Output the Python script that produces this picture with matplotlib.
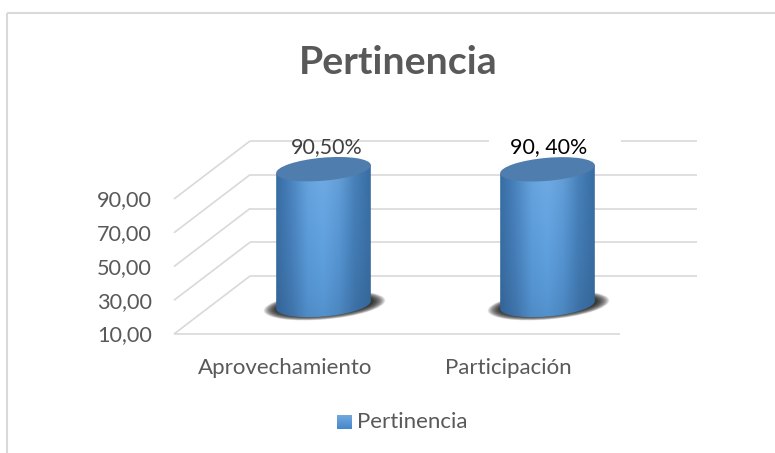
import numpy as np
import matplotlib
matplotlib.use("Agg")
import matplotlib.pyplot as plt
from matplotlib.patches import Ellipse, Polygon, Rectangle
from matplotlib.transforms import IdentityTransform
from matplotlib.colors import LinearSegmentedColormap

title = "Pertinencia"
categories = ["Aprovechamiento", "Participación"]
values = [90.5, 90.4]
value_labels = ["90,50%", "90, 40%"]
label_colors = ["#404040", "#000000"]
y_ticks = [10, 30, 50, 70, 90]
y_tick_labels = ["10,00", "30,00", "50,00", "70,00", "90,00"]
legend_label = "Pertinencia"

W, H = 775, 453
plt.rcParams["font.family"] = ["Lato", "DejaVu Sans"]
fig = plt.figure(figsize=(W / 100, H / 100), dpi=100)
ax = fig.add_axes([0, 0, 1, 1])
PX_UNIT = 1.6875
ax.set_xlim(-323.5 / 224, (W - 323.5) / 224)
ax.set_ylim(10 - (H - 334) / PX_UNIT, 10 + 334 / PX_UNIT)
ax.axis("off")
idt = IdentityTransform()

def P(x, y):
    """x, y from top-left pixels to display coordinates"""
    return (x, H - y)

GRID = "#d9d9d9"
def pline(x0, y0, x1, y1, z=1, lw=1.2, c=GRID):
    a, b = P(x0, y0), P(x1, y1)
    ax.plot([a[0], b[0]], [a[1], b[1]], transform=idt, color=c, lw=lw, zorder=z,
            clip_on=False, solid_capstyle="butt")

# outer frame: top and left edges only are visible
FL, FT, FR = 7.0, 13.0, 775.0
pline(FL, FT, FR, FT, lw=1.5)
pline(FL, FT, FL, H, lw=1.5)

# 3D grid derived from the value axis
FX0, BX0, FX1, BX1 = 174.0, 250.0, 620.0, 697.0
DY = 58.0
to_px = lambda v: H - ax.transData.transform((0, v))[1]
for v, lab in zip(y_ticks, y_tick_labels):
    yf = to_px(v)
    pline(FX0, yf, BX0, yf - DY)
    pline(BX0, yf - DY, BX1, yf - DY)
    ax.text(152, H - yf - 1.5, lab, transform=idt, ha="right", va="center",
            fontsize=15.6, color="#595959")
pline(FX0, to_px(10), FX1, to_px(10))

# cylinders
body = LinearSegmentedColormap.from_list("b", ["#376a9f", "#447cb6", "#5596d4", "#5a9cdb", "#5190cd", "#4078b0", "#386b9f"])
SEMI_W, SEMI_H, TILT = 47.5, 11.5, 5.0
DEPTH_Y = 29.0

for i, (v, txt, lc) in enumerate(zip(values, value_labels, label_colors)):
    cx = ax.transData.transform((i, 0))[0]
    ytop = to_px(v) - DEPTH_Y
    ybase = to_px(10) - DEPTH_Y
    # soft shadow
    for k in range(20):
        f = 1 - k / 20
        ax.add_patch(Ellipse(P(cx + 1, ybase + 0.5), 2 * (61 * f + 46 * (1 - f)), 2 * (14 * f + 9 * (1 - f)),
                             angle=TILT, transform=idt, fc="#111111", ec="none", alpha=0.09, zorder=3))
    # body outline in pixels
    th = np.radians(TILT)
    ts = np.linspace(np.pi, 2 * np.pi, 60)
    ex = SEMI_W * np.cos(ts)
    ey = SEMI_H * np.sin(ts)
    lower_x = cx + ex * np.cos(th) - ey * np.sin(th)
    lower_y = ybase - (ex * np.sin(th) + ey * np.cos(th))
    dxl = SEMI_W * np.cos(th)
    dyl = SEMI_W * np.sin(th)
    outline = [P(cx - dxl, ytop + dyl)] + [P(a, b) for a, b in zip(lower_x, lower_y)] + [P(cx + dxl, ytop - dyl)]
    clip = Polygon(outline, closed=True, transform=idt, fc="none", ec="none")
    ax.add_patch(clip)
    # horizontal shading with a vertical light falloff
    gx = np.linspace(0, 1, 120)
    rgb = body(gx)[:, :3]
    gy = np.linspace(0, 1, 80)
    light = 1.03 - 0.10 * gy ** 3
    img = rgb[None, :, :] * light[:, None, None]
    pale = 0.35 * ((1 - gy) ** 2)[:, None] * (np.sin(np.pi * gx) ** 2)[None, :]
    img = img * (1 - pale[:, :, None]) + pale[:, :, None] * np.array([0.62, 0.76, 0.90])
    x0, x1 = cx - dxl, cx + dxl
    y0, y1 = ytop - 12, ybase + 13
    a, b = ax.transData.inverted().transform(P(x0, y1)), ax.transData.inverted().transform(P(x1, y0))
    im = ax.imshow(np.clip(img, 0, 1), extent=[a[0], b[0], a[1], b[1]], origin="upper",
                   aspect="auto", zorder=4, interpolation="bilinear")
    im.set_clip_path(clip)
    # top cap
    ax.add_patch(Ellipse(P(cx, ytop), 2 * SEMI_W, 2 * SEMI_H, angle=TILT, transform=idt,
                         fc="#4f7dae", ec="none", zorder=5))
    # second value label sits on a white box that hides the grid line
    if i == 1:
        ax.add_patch(Rectangle(P(489, 155), 132, 28, transform=idt, fc="white", ec="none", zorder=2))
    ax.text(cx + 3 if i == 0 else cx + 1.5, H - 147.5, txt, transform=idt, ha="center", va="center",
            fontsize=15.4, color=lc, zorder=6)
    # category label
    ax.text(i - 0.17 - (0.007 if i else 0), -10, categories[i], ha="center", va="center",
            fontsize=16, color="#595959")

# title
ax.text(398.5, H - 63, title, transform=idt, ha="center", va="center", fontsize=28.3,
        fontweight="bold", color="#595959")

# legend
grad = np.linspace(0, 1, 30)[:, None, None] * (np.array([0.27, 0.53, 0.80]) - np.array([0.45, 0.66, 0.87])) + np.array([0.45, 0.66, 0.87])
a, b = ax.transData.inverted().transform(P(337, 429)), ax.transData.inverted().transform(P(352, 415))
ax.imshow(grad, extent=[a[0], b[0], a[1], b[1]], origin="upper", aspect="auto", zorder=4)
ax.set_xlim(-323.5 / 224, (W - 323.5) / 224)
ax.set_ylim(10 - (H - 334) / PX_UNIT, 10 + 334 / PX_UNIT)
ax.text(357, H - 422, legend_label, transform=idt, ha="left", va="center", fontsize=16, color="#595959")

fig.savefig("out.png", dpi=100)
